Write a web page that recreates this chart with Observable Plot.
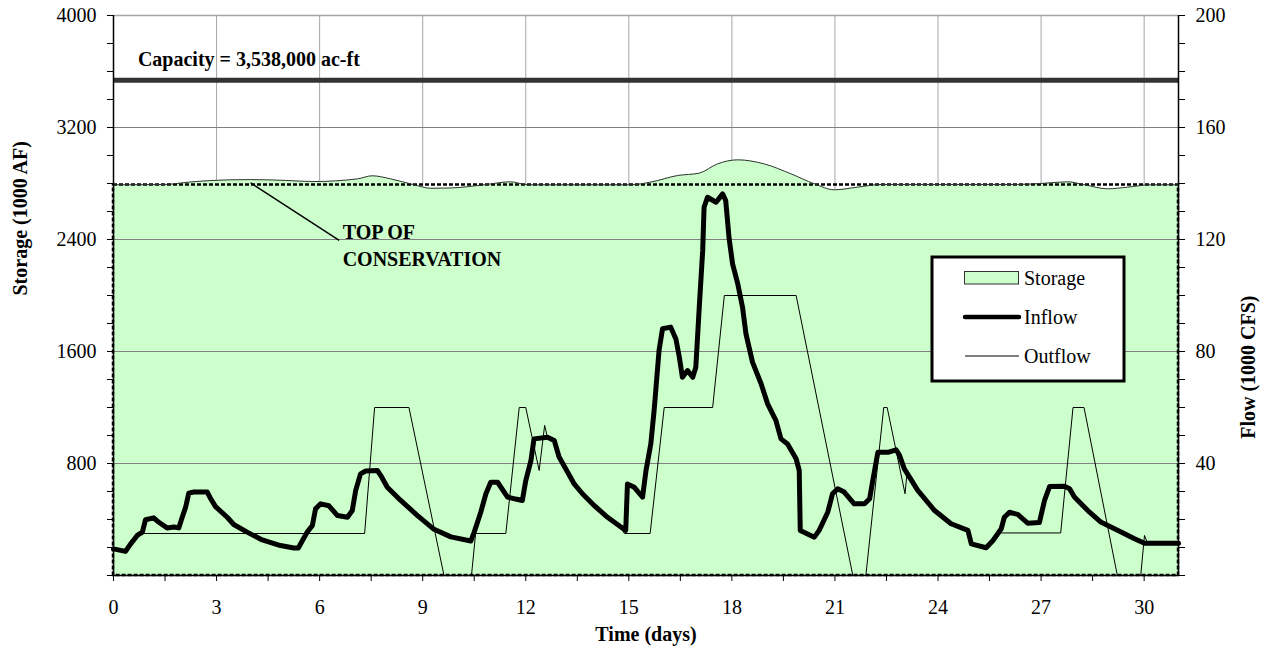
<!DOCTYPE html>
<html>
<head>
<meta charset="utf-8">
<script src="https://cdn.jsdelivr.net/npm/d3@7"></script>
<script src="https://cdn.jsdelivr.net/npm/@observablehq/plot@0.6"></script>
<style>
  html, body { margin: 0; padding: 0; background: #fff; }
  svg { display: block; }
</style>
</head>
<body>
<div id="chart"></div>
<script>
// ---------------- data ----------------
const capacity = 3538;          // 1000 AF
const topOfConservation = 2790; // 1000 AF
const dayMax = 31;
const flowToStorage = 20;       // 200 (1000 CFS) on the right axis == 4000 (1000 AF) on the left

const dayLabels = [0, 3, 6, 9, 12, 15, 18, 21, 24, 27, 30];
const storageLabels = [800, 1600, 2400, 3200, 4000];
const flowLabels = [40, 80, 120, 160, 200];
const legendItems = ["Storage", "Inflow", "Outflow"];

// storage (1000 AF)
const storagePoints = [
  [0,2791],[1.5,2793],[2.2,2810],[2.83,2821],[3.99,2828],[5.0,2822],[5.84,2814],[7.1,2833],
  [7.53,2855],[8.07,2833],[8.75,2791],[9.23,2766],[9.82,2768],[10.79,2791],[11.56,2812],
  [12.05,2791],[15.06,2791],[15.64,2810],[16.42,2857],[17.05,2874],[17.58,2940],[18.17,2969],
  [18.94,2940],[19.72,2869],[20.4,2798],[20.98,2755],[21.66,2774],[22.34,2793],[26.32,2793],
  [27.1,2802],[27.78,2812],[28.26,2791],[28.94,2762],[29.52,2774],[30.2,2791],[31,2791]
];

// inflow (1000 CFS)
const inflowPoints = [
  [0,9.5],[0.35,8.6],[0.5,11.3],[0.69,14.3],[0.84,15.5],[0.93,19.9],[1.17,20.6],[1.32,19],
  [1.56,17],[1.76,17.3],[1.9,17],[2.0,20.8],[2.1,24.4],[2.19,29.4],[2.34,29.8],[2.73,29.8],
  [2.83,27.4],[2.97,24.6],[3.31,20.8],[3.5,18.2],[3.89,15.5],[4.33,12.7],[4.86,10.7],[5.25,9.8],
  [5.38,9.8],[5.5,12.5],[5.64,15.5],[5.79,17.9],[5.88,23.8],[6.03,25.6],[6.27,24.9],[6.52,21.4],
  [6.81,20.8],[6.95,23.2],[7.05,30.4],[7.19,36.3],[7.34,37.3],[7.68,37.5],[7.78,35.7],[7.97,31.5],
  [8.36,26.8],[8.85,21.4],[9.33,16.5],[9.82,13.8],[10.4,12.3],[10.5,15.5],[10.69,22.6],[10.84,29.2],
  [10.98,33.3],[11.18,33.3],[11.47,28],[11.71,27.3],[11.9,26.8],[12.0,33.9],[12.15,41],[12.24,48.8],
  [12.63,49.4],[12.83,48.2],[12.97,42.3],[13.22,36.9],[13.41,32.7],[13.65,29.2],[13.99,25],
  [14.38,20.8],[14.77,17.3],[14.91,16.1],[14.96,32.7],[15.16,31.5],[15.4,28],[15.5,37.5],[15.64,47],
  [15.74,59.5],[15.88,80.4],[15.98,88.1],[16.22,88.7],[16.37,84.5],[16.47,78],[16.56,70.8],
  [16.71,73.2],[16.86,70.8],[16.95,74.4],[17.05,95.8],[17.15,116],[17.19,131.5],[17.29,135.1],
  [17.54,133.3],[17.73,136.3],[17.82,133.9],[17.92,120.3],[18.02,111.3],[18.17,104.2],[18.31,95.8],
  [18.41,86.3],[18.6,76.2],[18.85,68.5],[19.04,61.3],[19.28,55.4],[19.43,48.8],[19.62,47],
  [19.87,41.7],[19.96,37.5],[19.99,16.1],[20.4,13.7],[20.54,16.1],[20.79,22.6],[20.93,29.2],
  [21.08,31],[21.27,29.8],[21.56,25.6],[21.86,25.6],[22.01,27.4],[22.1,33.9],[22.25,44],[22.54,44],
  [22.78,44.9],[22.88,42.9],[23.02,38.1],[23.41,30.4],[23.9,23.2],[24.38,18.5],[24.87,16.1],
  [24.97,11.3],[25.4,9.9],[25.6,12.5],[25.84,16.7],[25.93,20.8],[26.08,22.6],[26.32,21.8],
  [26.61,18.7],[26.95,18.9],[27.1,26.8],[27.25,31.8],[27.68,31.9],[27.83,31],[27.97,28],
  [28.36,23.2],[28.75,19],[29.24,16.1],[29.72,13.1],[30.01,11.5],[31,11.5]
];

// outflow (1000 CFS)
const outflowPoints = [
  [0,9.5],[0.35,8.6],[0.5,11.3],[0.69,14.3],[0.87,15],[7.31,15],[7.6,60],[8.6,60],[9.62,0],
  [10.42,0],[10.54,15],[11.42,15],[11.81,60],[12.0,60],[12.39,37.5],[12.55,53.6],[12.63,49.4],
  [12.83,48.2],[12.97,42.3],[13.22,36.9],[13.41,32.7],[13.65,29.2],[13.99,25],[14.38,20.8],
  [14.77,17.3],[14.87,15],[15.62,15],[16.03,60],[17.44,60],[17.78,100],[19.87,100],[21.52,0],
  [21.9,0],[22.42,60],[22.52,60],[23.04,29.2],[23.1,36.9],[23.41,30.4],[23.9,23.2],[24.38,18.5],
  [24.87,16.1],[24.97,11.3],[25.4,9.9],[25.6,12.5],[25.81,15.2],[27.57,15.2],[27.93,60],[28.25,60],
  [29.22,0],[29.9,0],[30.01,14.3],[30.1,11.5],[31,11.5]
];

// ---------------- chart ----------------
const storage = storagePoints.map(([day, v]) => ({day, v}));
const inflow = inflowPoints.map(([day, f]) => ({day, v: f * flowToStorage}));
const outflow = outflowPoints.map(([day, f]) => ({day, v: f * flowToStorage}));

const minorY = d3.range(0, 4001, 200);
const minorX = d3.range(0, 30.01, 1.5);
const gridX = dayLabels;
const gridY = storageLabels.filter(d => d < 4000);

const chart = Plot.plot({
  width: 1268,
  height: 656,
  marginLeft: 113,
  marginRight: 90,
  marginTop: 15,
  marginBottom: 81,
  style: {fontFamily: "'Liberation Serif', 'Times New Roman', serif", fontSize: "20px", color: "#000", background: "#fff"},
  x: {domain: [0, dayMax]},
  y: {domain: [0, 4000]},
  marks: [
    Plot.ruleX(gridX, {y1: 0, y2: 4000, stroke: "#a6a6a6", strokeWidth: 1}),
    Plot.ruleY([4000], {stroke: "#a6a6a6", strokeWidth: 1.5}),
    Plot.areaY(storage, {x: "day", y: "v", fill: "#ccffcc", curve: "monotone-x"}),
    Plot.ruleY(gridY, {stroke: "#808080", strokeWidth: 1}),
    Plot.rect([{x1: 0, x2: dayMax, y1: 0, y2: topOfConservation}], {
      x1: "x1", x2: "x2", y1: "y1", y2: "y2", fill: "none", stroke: "#000",
      strokeWidth: 2.5, strokeDasharray: "4,2"
    }),
    Plot.lineY(storage, {x: "day", y: "v", stroke: "#333", strokeWidth: 1, curve: "monotone-x"}),
    Plot.ruleY([capacity], {x1: 0, x2: dayMax, stroke: "#333", strokeWidth: 5}),
    Plot.lineY(outflow, {x: "day", y: "v", stroke: "#000", strokeWidth: 1}),
    Plot.lineY(inflow, {x: "day", y: "v", stroke: "#000", strokeWidth: 5, strokeLinejoin: "round", strokeLinecap: "round"}),
    Plot.ruleX([0, dayMax], {y1: 0, y2: 4000, stroke: "#000", strokeWidth: 1.5}),
    Plot.ruleY([0], {stroke: "#000", strokeWidth: 1.5}),
    Plot.axisX({ticks: minorX, tickSize: 6, tickPadding: 18, label: null,
      tickFormat: d => (Math.abs(d / 3 - Math.round(d / 3)) < 1e-9 ? String(d) : "")}),
    Plot.axisY({anchor: "left", ticks: minorY, tickSize: 6, tickPadding: 11, label: null,
      tickFormat: d => (storageLabels.includes(d) ? String(d) : "")}),
    Plot.axisY({anchor: "right", ticks: minorY, tickSize: 6, tickPadding: 11, label: null,
      tickFormat: d => (flowLabels.includes(d / flowToStorage) ? String(d / flowToStorage) : "")}),
    // annotations
    Plot.text(["Capacity = 3,538,000 ac-ft"], {x: 0.71, y: 3686, text: d => d, textAnchor: "start",
      lineAnchor: "middle", fontWeight: "bold", fontSize: 20}),
    Plot.link([{x1: 3.99, y1: 2805, x2: 6.57, y2: 2393}], {x1: "x1", y1: "y1", x2: "x2", y2: "y2", stroke: "#000", strokeWidth: 1.5}),
    Plot.text(["TOP OF\nCONSERVATION"], {x: 6.67, y: 2368, text: d => d, textAnchor: "start",
      lineAnchor: "middle", lineHeight: 1.35, fontWeight: "bold", fontSize: 20}),
    // axis titles
    Plot.text(["Storage (1000 AF)"], {frameAnchor: "left", dx: -93, rotate: -90, text: d => d,
      fontWeight: "bold", fontSize: 20}),
    Plot.text(["Flow (1000 CFS)"], {frameAnchor: "right", dx: 70, rotate: -90, text: d => d,
      fontWeight: "bold", fontSize: 20}),
    Plot.text(["Time (days)"], {frameAnchor: "bottom", dy: 65, text: d => d,
      fontWeight: "bold", fontSize: 20})
  ]
});

// legend (inside the plot area, as in the reference)
const svg = d3.select(chart);
const lg = svg.append("g")
  .attr("font-family", "'Liberation Serif', 'Times New Roman', serif")
  .attr("font-size", 20)
  .attr("text-anchor", "start");
lg.append("rect").attr("x", 932).attr("y", 257).attr("width", 192).attr("height", 124)
  .attr("fill", "#fff").attr("stroke", "#000").attr("stroke-width", 3);
const rowY = [278, 317, 356];
lg.append("rect").attr("x", 964.5).attr("y", 271.5).attr("width", 54).attr("height", 12.5)
  .attr("fill", "#ccffcc").attr("stroke", "#333").attr("stroke-width", 1);
lg.append("line").attr("x1", 965).attr("x2", 1019).attr("y1", rowY[1]).attr("y2", rowY[1])
  .attr("stroke", "#000").attr("stroke-width", 4.5).attr("stroke-linecap", "round");
lg.append("line").attr("x1", 965).attr("x2", 1019).attr("y1", rowY[2]).attr("y2", rowY[2])
  .attr("stroke", "#000").attr("stroke-width", 1);
legendItems.forEach((name, i) => {
  lg.append("text").attr("x", 1024).attr("y", rowY[i]).attr("dy", "0.35em")
    .attr("text-anchor", "start").attr("fill", "#000").text(name);
});

document.getElementById("chart").appendChild(chart);
</script>
</body>
</html>
